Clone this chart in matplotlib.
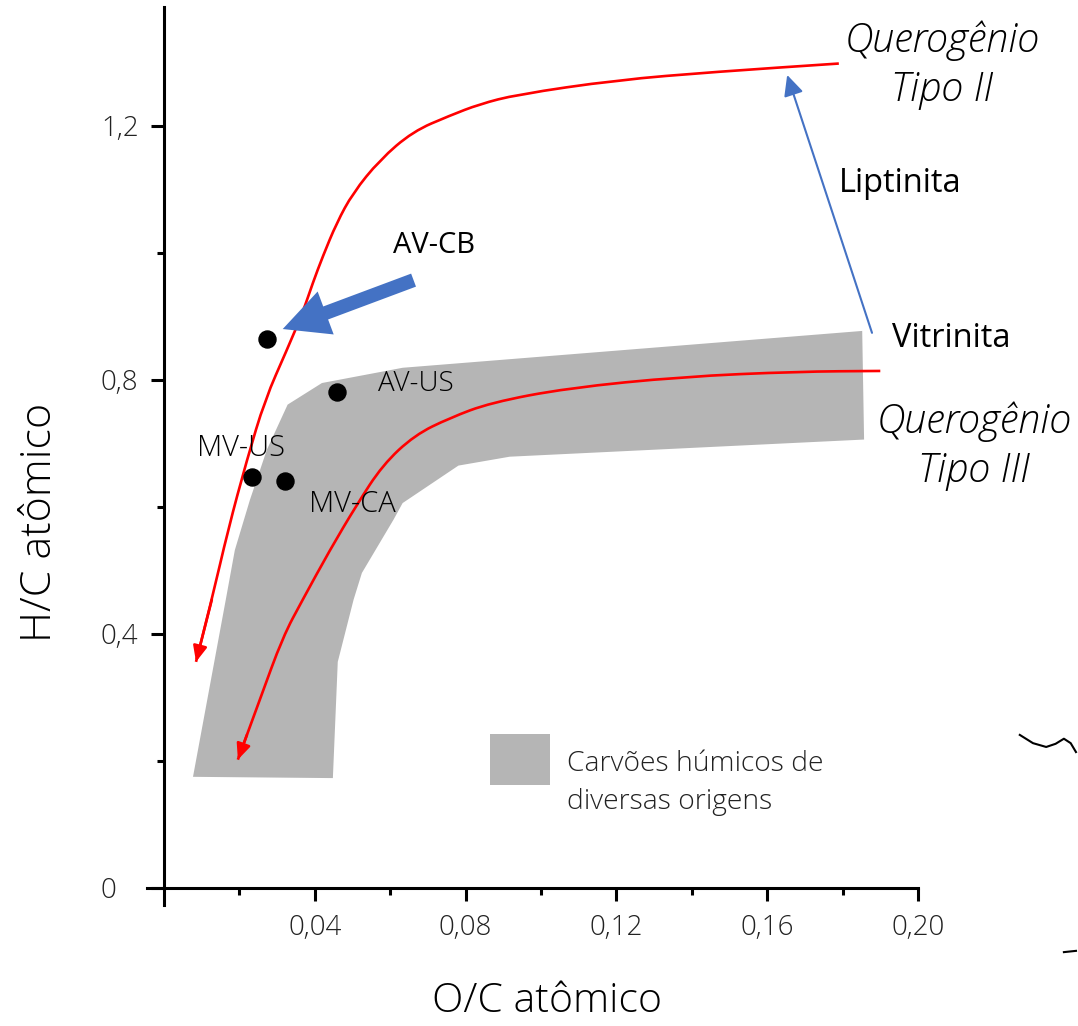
import numpy as np
import matplotlib
matplotlib.use("Agg")
import matplotlib.pyplot as plt
from matplotlib.patches import Polygon, Rectangle, FancyArrowPatch, PathPatch
from matplotlib.path import Path

plt.rcParams['font.family'] = ['Open Sans', 'DejaVu Sans']

# curves (O/C, H/C), listed from the arrow tip upwards
tipo2_x = [0.0085, 0.0127, 0.0170, 0.0220, 0.0268, 0.0326, 0.0368, 0.0395, 0.0421,
           0.0458, 0.0501, 0.0572, 0.0660, 0.0758, 0.0837, 0.0935, 0.120, 0.1465, 0.179]
tipo2_y = [0.356, 0.454, 0.564, 0.674, 0.769, 0.847, 0.906, 0.953, 0.994,
           1.047, 1.094, 1.146, 1.191, 1.216, 1.234, 1.249, 1.272, 1.285, 1.298]

tipo3_x = [0.0196, 0.0220, 0.0254, 0.0315, 0.0368, 0.0440, 0.0511, 0.0580, 0.0665,
           0.0758, 0.0866, 0.1070, 0.1375, 0.168, 0.190]
tipo3_y = [0.202, 0.241, 0.296, 0.395, 0.454, 0.532, 0.603, 0.666, 0.713,
           0.740, 0.764, 0.787, 0.805, 0.813, 0.814]

# humic coal field
campo_x = [0.0077, 0.0164, 0.0188, 0.0228, 0.0273, 0.0328, 0.0419, 0.0633, 0.1852,
           0.1857, 0.0917, 0.0781, 0.0633, 0.0609, 0.0525, 0.0503, 0.0461, 0.0448]
campo_y = [0.175, 0.454, 0.532, 0.611, 0.690, 0.761, 0.795, 0.819, 0.877,
           0.706, 0.679, 0.665, 0.606, 0.580, 0.496, 0.454, 0.356, 0.173]

# samples
amostras = ['AV-CB', 'AV-US', 'MV-US', 'MV-CA']
oc = [0.0273, 0.0460, 0.0233, 0.0320]
hc = [0.865, 0.781, 0.647, 0.641]

xticks = [0.04, 0.08, 0.12, 0.16, 0.20]
xticklabels = ['0,04', '0,08', '0,12', '0,16', '0,20']
yticks = [0, 0.4, 0.8, 1.2]
yticklabels = ['0', '0,4', '0,8', '1,2']

vermelho = '#ff0000'
azul = '#4472c4'
cinza = '#b5b5b5'


def curva_suave(xs, ys):
    # quadratic bezier through the midpoints, points act as control points
    pts = np.column_stack([xs, ys])
    verts = [pts[0]]
    codes = [Path.MOVETO]
    for i in range(1, len(pts) - 1):
        verts += [pts[i], (pts[i] + pts[i + 1]) / 2]
        codes += [Path.CURVE3, Path.CURVE3]
    verts.append(pts[-1])
    codes.append(Path.LINETO)
    return Path(verts, codes)


fig = plt.figure(figsize=(10.78, 10.26), dpi=100)
ax = fig.add_axes([147 / 1078, 121 / 1026, 771 / 1078, 898 / 1026])
ax.set_xlim(-0.0045, 0.2)
ax.set_ylim(-0.0268, 1.387)

for s in ['top', 'right']:
    ax.spines[s].set_visible(False)
ax.spines['left'].set_position(('data', 0))
ax.spines['bottom'].set_position(('data', 0))
for s in ['left', 'bottom']:
    ax.spines[s].set_linewidth(2.2)

ax.set_xticks(xticks)
ax.set_xticklabels(xticklabels)
ax.set_xticks(np.arange(0.02, 0.19, 0.04), minor=True)
ax.set_yticks(yticks)
ax.set_yticklabels(yticklabels, ha='left')
ax.set_yticks([0.2, 0.6, 1.0], minor=True)
ax.tick_params(which='major', length=9.4, width=2.2, labelsize=20, color='black')
ax.tick_params(which='minor', length=5, width=2.2)
ax.tick_params(axis='x', pad=9)
ax.tick_params(axis='y', pad=36)
for lab in ax.get_xticklabels() + ax.get_yticklabels():
    lab.set_fontweight('light')
    lab.set_color('#222222')

# field
ax.add_patch(Polygon(np.column_stack([campo_x, campo_y]), closed=True,
                     facecolor=cinza, edgecolor='none', zorder=1))

# kerogen curves with arrowheads
for cx, cy in [(tipo2_x, tipo2_y), (tipo3_x, tipo3_y)]:
    ax.add_patch(PathPatch(curva_suave(cx, cy), facecolor='none', edgecolor=vermelho,
                           lw=1.9, zorder=3, capstyle='butt'))
    ax.annotate('', xy=(cx[0], cy[0]), xytext=(cx[1], cy[1]),
                arrowprops=dict(arrowstyle='-|>,head_length=0.95,head_width=0.42',
                                color=vermelho, lw=1.9, shrinkA=0, shrinkB=0,
                                mutation_scale=10), zorder=3)

# liptinita -> vitrinita arrow
ax.annotate('', xy=(0.1653, 1.280), xytext=(0.1878, 0.874),
            arrowprops=dict(arrowstyle='-|>,head_length=1.25,head_width=0.6',
                            color=azul, lw=1.5, shrinkA=0, shrinkB=0,
                            mutation_scale=10), zorder=3)

# thick arrow to AV-CB
ax.add_patch(FancyArrowPatch((0.0662, 0.957), (0.0315, 0.880),
                             arrowstyle='simple,head_length=33,head_width=33,tail_width=10',
                             mutation_scale=1, shrinkA=0, shrinkB=0,
                             facecolor=azul, edgecolor='none', zorder=4))

ax.scatter(oc, hc, s=150, color='black', zorder=5)

# sample labels
ax.text(0.0607, 0.999, amostras[0], fontsize=21, va='baseline', ha='left')
ax.text(0.0567, 0.783, amostras[1], fontsize=20, va='baseline', ha='left', fontweight='light')
ax.text(0.0088, 0.680, amostras[2], fontsize=21, va='baseline', ha='left', fontweight='light')
ax.text(0.0384, 0.592, amostras[3], fontsize=21, va='baseline', ha='left', fontweight='light')

# side labels
ax.text(0.2064, 1.316, 'Querogênio', fontsize=28.5, style='italic', ha='center',
        va='baseline', fontweight='light', clip_on=False)
ax.text(0.2064, 1.239, 'Tipo II', fontsize=28.5, style='italic', ha='center',
        va='baseline', fontweight='light', clip_on=False)
ax.text(0.2148, 0.717, 'Querogênio', fontsize=28.5, style='italic', ha='center',
        va='baseline', fontweight='light', clip_on=False)
ax.text(0.2148, 0.639, 'Tipo III', fontsize=28.5, style='italic', ha='center',
        va='baseline', fontweight='light', clip_on=False)
ax.text(0.1791, 1.096, 'Liptinita', fontsize=23.5, ha='left', va='baseline', clip_on=False)
ax.text(0.1931, 0.852, 'Vitrinita', fontsize=23.5, ha='left', va='baseline', clip_on=False)

# legend
ax.add_patch(Rectangle((0.0866, 0.162), 0.0159, 0.0805, facecolor=cinza,
                       edgecolor='none'))
ax.text(0.1070, 0.184, 'Carvões húmicos de', fontsize=20.3, fontweight='light',
        ha='left', va='baseline', color='#222222')
ax.text(0.1070, 0.125, 'diversas origens', fontsize=20.3, fontweight='light',
        ha='left', va='baseline', color='#222222')

# stray marks at the right edge
rabisco_x = [0.227, 0.2305, 0.234, 0.2365, 0.2387, 0.2405, 0.2419]
rabisco_y = [0.241, 0.228, 0.222, 0.227, 0.235, 0.228, 0.214]
ax.plot(rabisco_x, rabisco_y, color='black', lw=1.5, clip_on=False)
ax.plot([0.2387, 0.2419], [-0.101, -0.099], color='black', lw=1.5, clip_on=False)

fig.text(40 / 1078, 1 - 522 / 1026, 'H/C atômico', rotation=90, fontsize=31,
         ha='center', va='center', fontweight='light')
fig.text(547 / 1078, 1 - 1002 / 1026, 'O/C atômico', fontsize=29.5,
         ha='center', va='center', fontweight='light')

fig.savefig('out.png', dpi=100)
